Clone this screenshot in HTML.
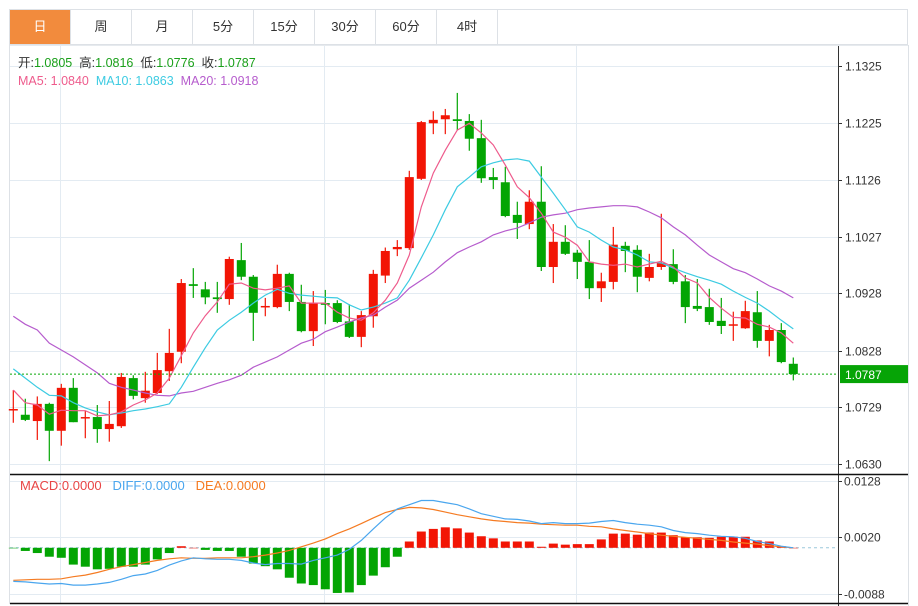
<!DOCTYPE html>
<html><head><meta charset="utf-8">
<style>
html,body{margin:0;padding:0;background:#fff;}
body{width:918px;height:606px;position:relative;overflow:hidden;font-family:"Liberation Sans","Noto Sans CJK SC",sans-serif;}
#tabs{position:absolute;left:9px;top:9px;height:36px;width:899px;border:1px solid #dde1e6;box-sizing:border-box;display:flex;}
.tab{width:61px;height:34px;border-right:1px solid #dde1e6;box-sizing:border-box;text-align:center;line-height:34px;font-size:13px;color:#333;}
.tab.on{background:#f28b3d;color:#fff;}
svg{position:absolute;left:0;top:0;}
</style></head>
<body>
<div id="tabs">
<div class="tab on">日</div>
<div class="tab">周</div>
<div class="tab">月</div>
<div class="tab">5分</div>
<div class="tab">15分</div>
<div class="tab">30分</div>
<div class="tab">60分</div>
<div class="tab">4时</div>
</div>
<svg id="chart" width="918" height="606"></svg>
<script>
const opens=[1.0724,1.0716,1.0705,1.0735,1.0688,1.0763,1.0710,1.0712,1.0691,1.0696,1.0780,1.0745,1.0754,1.0792,1.0826,1.0944,1.0935,1.0921,1.0918,1.0986,1.0957,1.0904,1.0904,1.0962,1.0913,1.0862,1.0911,1.0911,1.0879,1.0852,1.0888,1.0959,1.1005,1.1007,1.1128,1.1225,1.1232,1.1232,1.1229,1.1199,1.1131,1.1122,1.1065,1.1049,1.1088,1.0974,1.1018,1.0999,1.0983,1.0937,1.0948,1.1011,1.1004,1.0955,1.0974,1.0979,1.0949,1.0906,1.0904,1.0880,1.0873,1.0867,1.0895,1.0845,1.0864,1.0805];
const highs=[1.0759,1.0744,1.0748,1.0737,1.0770,1.0780,1.0723,1.0733,1.0740,1.0789,1.0785,1.0791,1.0824,1.0866,1.0953,1.0972,1.0948,1.0948,1.0992,1.1016,1.0960,1.0920,1.0978,1.0964,1.0943,1.0932,1.0934,1.0916,1.0909,1.0897,1.0969,1.1008,1.1021,1.1142,1.1229,1.1246,1.1250,1.1278,1.1241,1.1231,1.1147,1.1149,1.1088,1.1108,1.1150,1.1049,1.1047,1.1004,1.1021,1.0964,1.1044,1.1018,1.1012,1.0997,1.1067,1.1005,1.0960,1.0953,1.0936,1.0920,1.0896,1.0915,1.0932,1.0873,1.0876,1.0816];
const lows=[1.0702,1.0705,1.0672,1.0635,1.0662,1.0703,1.0675,1.0667,1.0669,1.0693,1.0743,1.0737,1.0752,1.0775,1.0806,1.0920,1.0909,1.0894,1.0908,1.0951,1.0845,1.0888,1.0902,1.0897,1.0860,1.0836,1.0874,1.0876,1.0850,1.0834,1.0868,1.0946,1.0993,1.1004,1.1126,1.1206,1.1206,1.1213,1.1177,1.1121,1.1110,1.1061,1.1023,1.1040,1.0967,1.0946,1.0995,1.0953,1.0918,1.0913,1.0935,1.0965,1.0930,1.0949,1.0969,1.0944,1.0876,1.0897,1.0873,1.0857,1.0845,1.0866,1.0833,1.0818,1.0806,1.0776];
const closes=[1.0726,1.0707,1.0735,1.0688,1.0763,1.0703,1.0712,1.0691,1.0700,1.0782,1.0749,1.0758,1.0794,1.0824,1.0946,1.0941,1.0921,1.0918,1.0988,1.0957,1.0894,1.0906,1.0962,1.0913,1.0862,1.0911,1.0908,1.0878,1.0852,1.0890,1.0962,1.1002,1.1009,1.1131,1.1227,1.1231,1.1239,1.1229,1.1198,1.1129,1.1126,1.1063,1.1051,1.1088,1.0974,1.1018,1.0997,1.0983,1.0937,1.0949,1.1013,1.1002,1.0957,1.0974,1.0981,1.0948,1.0904,1.0901,1.0878,1.0871,1.0874,1.0897,1.0845,1.0864,1.0808,1.0787];
const ma5=[1.0759,1.0737,1.0733,1.0717,1.0724,1.0723,1.0723,1.0714,1.0716,1.0721,1.0733,1.0742,1.0754,1.0780,1.0819,1.0859,1.0889,1.0913,1.0944,1.0946,1.0937,1.0934,1.0937,1.0941,1.0911,1.0911,1.0911,1.0895,1.0885,1.0881,1.0894,1.0916,1.0946,1.0995,1.1079,1.1138,1.1178,1.1213,1.1225,1.1208,1.1187,1.1152,1.1114,1.1095,1.1068,1.1035,1.1026,1.1012,1.0983,1.0979,1.0977,1.0979,1.0974,1.0979,1.0984,1.0974,1.0955,1.0946,1.0921,1.0902,1.0886,1.0885,1.0874,1.0869,1.0859,1.0841];
const ma10=[1.0796,1.0780,1.0764,1.0750,1.0749,1.0737,1.0728,1.0721,1.0716,1.0719,1.0723,1.0726,1.0730,1.0735,1.0764,1.0799,1.0833,1.0864,1.0881,1.0895,1.0911,1.0925,1.0935,1.0928,1.0925,1.0923,1.0921,1.0920,1.0908,1.0899,1.0904,1.0911,1.0920,1.0951,1.0990,1.1030,1.1074,1.1114,1.1131,1.1149,1.1156,1.1161,1.1163,1.1159,1.1131,1.1103,1.1074,1.1044,1.1035,1.1021,1.1009,1.1004,1.0995,1.0983,1.0981,1.0972,1.0964,1.0957,1.0951,1.0944,1.0932,1.0921,1.0911,1.0897,1.0881,1.0866];
const ma20=[1.0888,1.0874,1.0864,1.0841,1.0829,1.0817,1.0803,1.0789,1.0771,1.0764,1.0759,1.0754,1.0750,1.0749,1.0754,1.0757,1.0764,1.0771,1.0777,1.0785,1.0799,1.0808,1.0817,1.0829,1.0841,1.0848,1.0861,1.0869,1.0878,1.0885,1.0890,1.0904,1.0916,1.0937,1.0951,1.0965,1.0983,1.0999,1.1009,1.1018,1.1030,1.1037,1.1042,1.1051,1.1061,1.1065,1.1068,1.1074,1.1077,1.1079,1.1081,1.1081,1.1079,1.1070,1.1060,1.1044,1.1030,1.1012,1.0995,1.0983,1.0971,1.0964,1.0953,1.0941,1.0932,1.0920];
const macdBars=[-0.0001,-0.0006,-0.0010,-0.0017,-0.0019,-0.0032,-0.0036,-0.0041,-0.0040,-0.0036,-0.0036,-0.0032,-0.0022,-0.0010,0.0003,0.0000,-0.0004,-0.0006,-0.0006,-0.0017,-0.0030,-0.0035,-0.0041,-0.0057,-0.0068,-0.0071,-0.0079,-0.0086,-0.0085,-0.0071,-0.0053,-0.0037,-0.0017,0.0012,0.0031,0.0036,0.0039,0.0037,0.0029,0.0022,0.0018,0.0012,0.0012,0.0012,0.0002,0.0008,0.0006,0.0007,0.0007,0.0016,0.0027,0.0027,0.0025,0.0029,0.0029,0.0024,0.0020,0.0020,0.0019,0.0021,0.0021,0.0021,0.0014,0.0012,0.0003,0.0000];
const diff=[-0.0064,-0.0065,-0.0067,-0.0069,-0.0068,-0.0071,-0.0071,-0.0069,-0.0066,-0.0060,-0.0053,-0.0050,-0.0043,-0.0033,-0.0025,-0.0019,-0.0021,-0.0022,-0.0022,-0.0024,-0.0029,-0.0032,-0.0030,-0.0030,-0.0031,-0.0024,-0.0019,-0.0014,-0.0003,0.0014,0.0036,0.0057,0.0074,0.0082,0.0090,0.0090,0.0086,0.0082,0.0074,0.0065,0.0060,0.0055,0.0054,0.0051,0.0046,0.0048,0.0046,0.0046,0.0047,0.0050,0.0052,0.0048,0.0045,0.0043,0.0040,0.0033,0.0029,0.0027,0.0024,0.0022,0.0021,0.0018,0.0012,0.0008,0.0003,0.0000];
const dea=[-0.0062,-0.0061,-0.0060,-0.0060,-0.0059,-0.0055,-0.0052,-0.0047,-0.0041,-0.0036,-0.0032,-0.0028,-0.0024,-0.0021,-0.0019,-0.0020,-0.0020,-0.0019,-0.0019,-0.0019,-0.0017,-0.0014,-0.0010,-0.0005,0.0002,0.0009,0.0017,0.0027,0.0036,0.0046,0.0057,0.0067,0.0073,0.0077,0.0076,0.0073,0.0068,0.0063,0.0059,0.0055,0.0052,0.0050,0.0048,0.0047,0.0045,0.0044,0.0043,0.0043,0.0041,0.0040,0.0036,0.0033,0.0030,0.0027,0.0024,0.0022,0.0020,0.0018,0.0016,0.0014,0.0011,0.0009,0.0007,0.0004,0.0002,0.0000];
const priceTicks=["1.1325","1.1225","1.1126","1.1027","1.0928","1.0828","1.0729","1.0630"];
const macdTicks=["0.0128","0.0020","-0.0088"];
const lastPrice=1.0787;

const NS="http://www.w3.org/2000/svg";
const svg=document.getElementById('chart');
function el(tag,attrs,parent){const e=document.createElementNS(NS,tag);for(const k in attrs)e.setAttribute(k,attrs[k]);(parent||svg).appendChild(e);return e;}
const X0=13.3, DX=12;
function xAt(i){return X0+DX*i;}
function yPrice(p){return 66+(1.1325-p)*(398/0.0695);}
function yMacd(v){return 537.3-(v-0.0020)*(56.7/0.0108);}

const axisX=838;
const bl=el('line',{x1:9.5,y1:45,x2:9.5,y2:604,stroke:'#dde1e6'});

const br=el('line',{x1:908.5,y1:45,x2:908.5,y2:606,stroke:'#dde1e6'});

const bt=el('line',{x1:10,y1:45.5,x2:908,y2:45.5,stroke:'#e6eaee'});


[60,324,576].forEach(x=>{
  const g=el('line',{x1:x+0.5,y1:46,x2:x+0.5,y2:603,stroke:'#e3ebf2'});
  
});
priceTicks.forEach(t=>{
  const y=Math.round(yPrice(parseFloat(t)))+0.5;
  const g=el('line',{x1:10,y1:y,x2:axisX,y2:y,stroke:'#e3ebf2'});
  
  const tk=el('line',{x1:axisX,y1:y,x2:axisX+4,y2:y,stroke:'#333'});
  
  const tx=el('text',{x:axisX+7,y:y+4,'font-size':12,fill:'#333'});tx.textContent=t;
  
});
macdTicks.forEach(t=>{
  const y=Math.round(yMacd(parseFloat(t)))+0.5;
  const g=el('line',{x1:10,y1:y,x2:axisX,y2:y,stroke:'#e3ebf2'});
  
  const tk=el('line',{x1:axisX,y1:y,x2:axisX+4,y2:y,stroke:'#333'});
  
  const tx=el('text',{x:axisX+6,y:y+4,'font-size':12,fill:'#333'});tx.textContent=t;
  
});
const ax=el('line',{x1:axisX+0.5,y1:46,x2:axisX+0.5,y2:606,stroke:'#333'});

const sep=el('line',{x1:10,y1:474.5,x2:908,y2:474.5,stroke:'#111','stroke-width':1.5});

const bot=el('line',{x1:10,y1:603.5,x2:908,y2:603.5,stroke:'#111','stroke-width':1.5});

const zl=el('line',{x1:10,y1:yMacd(0),x2:axisX,y2:yMacd(0),stroke:'#9cc8dc','stroke-dasharray':'3,3'});


const n=opens.length;
for(let i=0;i<n;i++){
  const up=closes[i]>=opens[i];
  const c=up?'#f21505':'#03a503';
  const x=xAt(i);
  const g=el('g',{});
  
  el('line',{x1:x,y1:yPrice(highs[i]),x2:x,y2:yPrice(lows[i]),stroke:c,'stroke-width':1.2},g);
  const yt=yPrice(Math.max(opens[i],closes[i])), yb=yPrice(Math.min(opens[i],closes[i]));
  el('rect',{x:x-4.5,y:yt,width:9,height:Math.max(1.5,yb-yt),fill:c},g);
}
function line(arr,yf,color,name){
  const pts=arr.map((v,i)=>xAt(i).toFixed(1)+','+yf(v).toFixed(1)).join(' ');
  const p=el('polyline',{points:pts,fill:'none',stroke:color,'stroke-width':1.2});
  
}
line(ma20,yPrice,'#b65ccd','ma20-line');
line(ma10,yPrice,'#3ccbe2','ma10-line');
line(ma5,yPrice,'#ee5b8c','ma5-line');

const ly=yPrice(lastPrice);
const ll=el('line',{x1:10,y1:ly,x2:axisX,y2:ly,stroke:'#08a808','stroke-dasharray':'2,2'});

const lb=el('rect',{x:axisX+2,y:ly-9,width:68,height:18,fill:'#06a406'});

const lt=el('text',{x:axisX+7,y:ly+5,'font-size':12,fill:'#fff'});lt.textContent=lastPrice.toFixed(4);


for(let i=0;i<macdBars.length;i++){
  const v=macdBars[i];
  const y0=yMacd(0), y1=yMacd(v);
  const r=el('rect',{x:xAt(i)-4.5,y:Math.min(y0,y1),width:9,height:Math.max(0.5,Math.abs(y1-y0)),fill:v>=0?'#f21505':'#03a503'});
  
}
line(dea,yMacd,'#f57b22','dea-line');
line(diff,yMacd,'#4aa6ee','diff-line');

function txt(x,y,size,parts,name){
  const t=el('text',{x:x,y:y,'font-size':size});
  
  t.style.whiteSpace='pre';
  parts.forEach(([s,c])=>{const ts=el('tspan',{fill:c},t);ts.textContent=s;});
}
txt(18,67,12.5,[['开:','#333'],['1.0805','#1aa01a'],['  高:','#333'],['1.0816','#1aa01a'],['  低:','#333'],['1.0776','#1aa01a'],['  收:','#333'],['1.0787','#1aa01a']],'ohlc-legend');
txt(18,85,12.5,[['MA5: 1.0840','#ee5b8c'],['  MA10: 1.0863','#3ccbe2'],['  MA20: 1.0918','#b65ccd']],'ma-legend');
txt(20,490,13,[['MACD:0.0000','#e84545'],['   DIFF:0.0000','#4aa6ee'],['   DEA:0.0000','#f57b22']],'macd-legend');
</script>
</body></html>
